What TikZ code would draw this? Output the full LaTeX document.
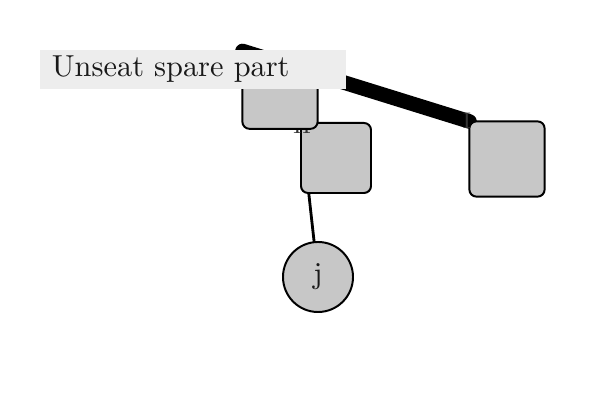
\documentclass[tikz,border=0pt]{standalone}
\usepackage{xcolor}
\usepackage{tikz}
\usetikzlibrary{positioning}

\begin{document}
\begin{tikzpicture}[x=0.0125cm, y=-0.0125cm, every node/.style={draw, line width=0.7pt, fill=black!22, rounded corners=2.5pt, inner sep=0pt}]
	\useasboundingbox (0,0) rectangle (600,400);
	% Nodes
	\path (280,90) coordinate (pa);
	\path (336,158) coordinate (pb);
	\path (507,159) coordinate (pc);
	\path (318,277) coordinate (pj);
	\path (pa) ++(-37.5,-39) coordinate (anw);
	\path (pb) ++(-35,-35) coordinate (bnw);
	\path (pc) ++(-37.5,-37.5) coordinate (cnw);
	% Edges
	\draw[line width=5.2pt, line cap=round] (anw) -- (cnw);
	\draw[line width=1pt] (bnw) -- (pj);
	% Boxes
	\node[minimum size=0.875cm] (b) at (pb) {};
	\node[minimum size=0.94cm] (c) at (pc) {};
	\node[circle, minimum size=0.875cm, text=black!90, font=\fontsize{10.8}{13}\selectfont] (j) at (pj) {j};
	% Labels
	\node[draw=none, fill=none, font=\footnotesize, text=black!80] (lb) at (302,126) {II};
	\node[draw=none, fill=none, font=\footnotesize, text=black!80] (lc) at (467,121) {I};
	\node[minimum width=0.94cm, minimum height=0.97cm] (a) at (pa) {};
	% Caption
	\node[draw=none, fill=black!7, rounded corners=0pt, minimum width=3.825cm, minimum height=0.4875cm, text width=3.525cm, inner xsep=0.15cm, align=left, text=black!90, font=\fontsize{10.8}{13}\selectfont] (cap) at (193,69.5) {Unseat spare part};
\end{tikzpicture}
\end{document}
